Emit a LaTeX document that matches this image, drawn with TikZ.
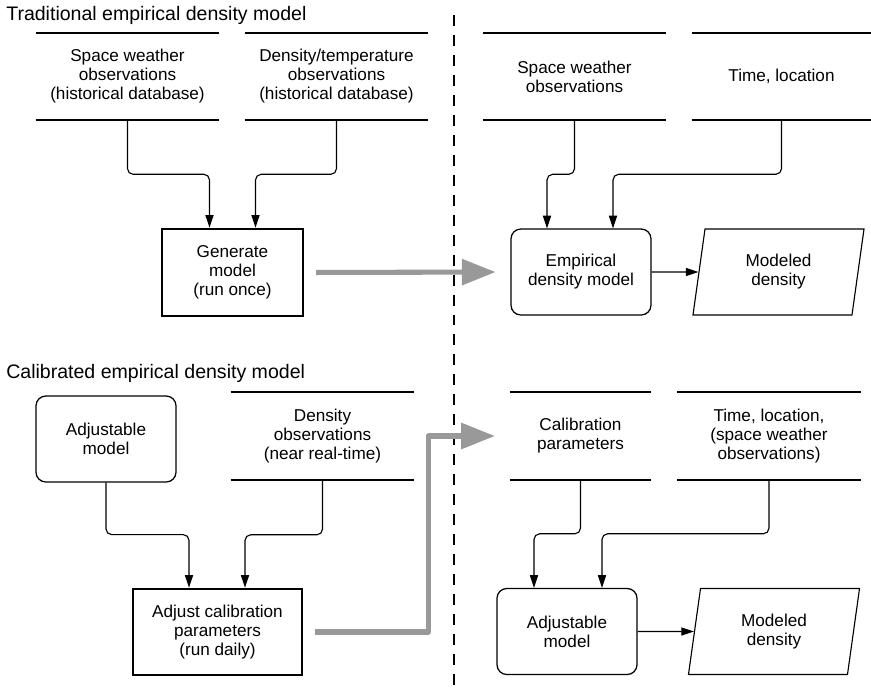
\documentclass[tikz,border=0pt]{standalone}
\usepackage{fontspec}
\setmainfont{Liberation Sans}
\usetikzlibrary{calc,arrows.meta,shapes.geometric}
\tikzset{
	store/.style={minimum width=4.575cm, minimum height=2.175cm, inner sep=0pt, align=center, font=\fontsize{12.2}{13.5}\selectfont},
	process/.style={draw, line width=1.8pt, minimum width=3.525cm, minimum height=2.175cm, inner sep=0pt, align=center, font=\fontsize{12.2}{13.5}\selectfont},
	model/.style={draw, line width=0.9pt, rounded corners=7pt, minimum width=3.5cm, minimum height=2.15cm, inner sep=0pt, align=center, font=\fontsize{12.2}{13.5}\selectfont},
	output/.style={draw, line width=0.8pt, trapezium, trapezium left angle=71, trapezium right angle=109, trapezium stretches body, minimum width=4.275cm, minimum height=2.15cm, inner sep=0pt, align=center, font=\fontsize{12.2}{13.5}\selectfont},
	heading/.style={anchor=base west, inner sep=0pt, font=\fontsize{13.9}{16}\selectfont},
	flow/.style={line width=0.8pt, rounded corners=4pt, -{Triangle[length=9pt,width=5.8pt]}},
	bigflow/.style={line width=3.6pt, draw=black!40, line join=round, -{Triangle[length=24pt,width=18pt]}, shorten <=8.5pt, shorten >=10.5pt},
}
\begin{document}
\begin{tikzpicture}[x=0.025cm, y=-0.025cm]
			%%%%% START %%%%%
			\useasboundingbox (0, 0) rectangle (871, 692);
			
			\coordinate (divtop) at (454, 15);
			\coordinate (divbot) at (454, 692);
			\draw[line width=1pt, dash pattern=on 7.8pt off 6.4pt] (divtop) -- (divbot);
			
			% traditional model
			\node[heading] (title1) at (6, 20) {Traditional empirical density model};
			
			\node[store] (ds1) at (127.5, 76.5) {Space weather\\observations\\(historical database)};
			\node[store] (ds2) at (336.5, 76.5) {Density/temperature\\observations\\(historical database)};
			\node[store] (ds3) at (574.5, 76.5) {Space weather\\observations};
			\node[store, minimum width=4.475cm] (ds4) at (781.5, 76.5) {Time, location};
			
			\node[process] (gen) at (232.5, 272.5) {Generate\\model\\(run once)};
			\node[model] (emp) at (581, 272) {Empirical\\density model};
			\node[output] (mod1) at (778.5, 272) {Modeled\\density};
			
			\draw[flow] (ds1.south) -- ++(0, 54) -| ($(gen.north)+(-23, 0)$);
			\draw[flow] (ds2.south) -- ++(0, 54) -| ($(gen.north)+(23, 0)$);
			\draw[flow] (ds3.south) -- ++(0, 54) -| ($(emp.north)+(-34, 0)$);
			\draw[flow] (ds4.south) -- ++(0, 54) -| ($(emp.north)+(32, 0)$);
			\draw[flow] (emp.east) -- (mod1.west);
			
			\draw[bigflow] (gen.east) -- (emp.west);
			
			% calibrated model
			\node[heading] (title2) at (6, 378) {Calibrated empirical density model};
			
			\node[model] (adjm1) at (106, 439) {Adjustable\\model};
			\node[store] (ds5) at (322.5, 436) {Density\\observations\\(near real-time)};
			\node[store, minimum width=3.525cm] (ds6) at (580.5, 436) {Calibration\\parameters};
			\node[store] (ds7) at (769, 436) {Time, location,\\(space weather\\observations)};
			
			\node[process, minimum width=4.225cm, minimum height=2.15cm] (adj) at (217.5, 632) {Adjust calibration\\parameters\\(run daily)};
			\node[model] (adjm2) at (567, 631.5) {Adjustable\\model};
			\node[output] (mod2) at (774, 631.5) {Modeled\\density};
			
			\draw[flow] (adjm1.south) -- ++(0, 52) -| ($(adj.north)+(-28.5, 0)$);
			\draw[flow] (ds5.south) -- ++(0, 55) -| ($(adj.north)+(27.5, 0)$);
			\draw[flow] (ds6.south) -- ++(0, 54) -| ($(adjm2.north)+(-33, 0)$);
			\draw[flow] (ds7.south) -- ++(0, 54) -| ($(adjm2.north)+(35, 0)$);
			\draw[flow] (adjm2.east) -- (mod2.west);
			
			\draw[bigflow] (adj.east) -- ++(125, 0) |- (ds6.west);
			
			\foreach \s in {ds1,ds2,ds3,ds4,ds5,ds6,ds7}
				\draw[line width=1.6pt] (\s.north west) -- (\s.north east) (\s.south west) -- (\s.south east);
			
			%%%%% END %%%%%
\end{tikzpicture}
\end{document}
